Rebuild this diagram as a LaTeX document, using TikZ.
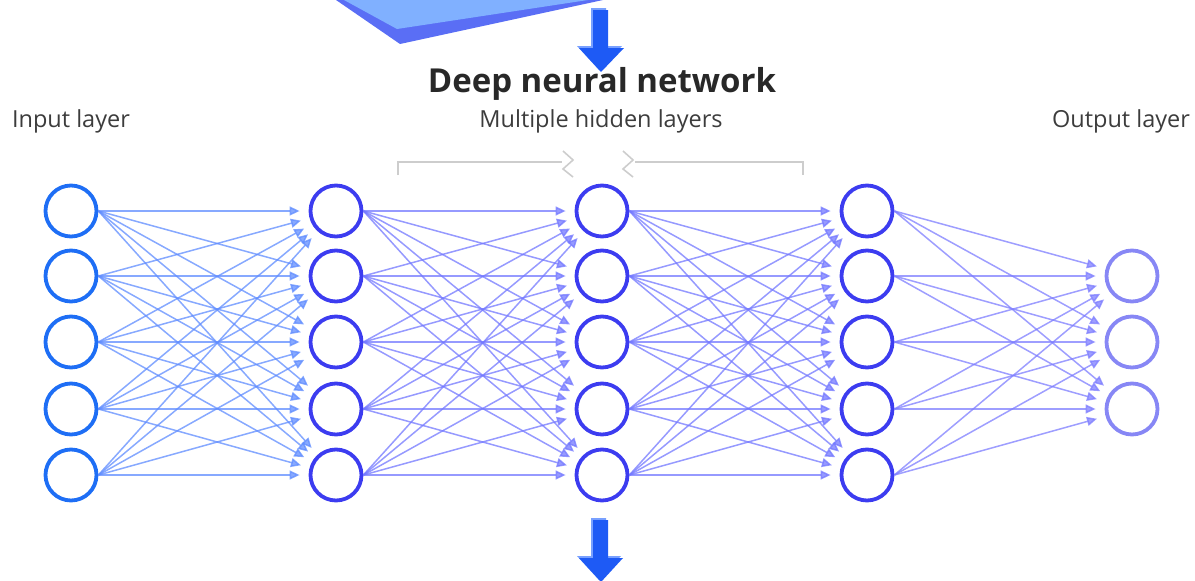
\documentclass[tikz,border=0pt]{standalone}
\usepackage{fontspec}
\setmainfont{Open Sans}
\usetikzlibrary{arrows.meta}
\definecolor{inC}{RGB}{30,110,245}
\definecolor{hidC}{RGB}{60,60,240}
\definecolor{outC}{RGB}{135,135,245}
\definecolor{eA}{RGB}{95,140,255}
\definecolor{eB}{RGB}{115,120,255}
\definecolor{eC}{RGB}{125,125,255}
\definecolor{slabL}{RGB}{128,176,255}
\definecolor{slabD}{RGB}{90,110,245}
\definecolor{arrB}{RGB}{30,90,245}
\definecolor{arrS}{RGB}{120,160,255}
\definecolor{brkC}{RGB}{205,205,205}
\definecolor{txtC}{RGB}{60,60,60}
\definecolor{titC}{RGB}{40,40,40}
\tikzset{
  neuron/.style={circle, minimum size=51pt, inner sep=0pt, line width=3.8pt, fill=white},
  inn/.style={neuron, draw=inC},
  hid/.style={neuron, draw=hidC},
  outn/.style={neuron, draw=outC},
  edgebase/.style={line width=1.5pt, opacity=0.75, shorten >=9pt, -{Triangle[length=10pt,width=9pt]}},
  eAs/.style={edgebase, draw=eA},
  eBs/.style={edgebase, draw=eB},
  eCs/.style={edgebase, draw=eC},
  brk/.style={draw=brkC, line width=1.6pt},
  lbl/.style={font=\fontsize{23.5}{28}\selectfont, text=txtC, inner sep=0pt},
  ttl/.style={font=\fontsize{33}{38}\selectfont\bfseries, text=titC, inner sep=0pt}
}
\begin{document}
\begin{tikzpicture}[x=1pt,y=-1pt]
\useasboundingbox (0,0) rectangle (1195,581);
\clip (0,0) rectangle (1195,581);
% slab
\fill[slabD] (336,0) -- (400,44) -- (603,0) -- cycle;
\fill[slabL] (344,0) -- (397,29) -- (588,0) -- cycle;
% arrows
\fill[arrS] (591,8) -- (606,8) -- (606,46) -- (622,46) -- (599,70) -- (577,46) -- (591,46) -- cycle;
\fill[arrB] (593,10) -- (608,10) -- (608,48) -- (624,48) -- (601,72) -- (579,48) -- (593,48) -- cycle;
\fill[arrS] (591,518) -- (606,518) -- (606,556) -- (621,556) -- (599,580) -- (577,556) -- (591,556) -- cycle;
\fill[arrB] (593,520) -- (608,520) -- (608,558) -- (623,558) -- (601,582) -- (579,558) -- (593,558) -- cycle;
% texts
\node[ttl] (title) at (602,84) {Deep neural network};
\node[lbl] (lin) at (71,121) {Input layer};
\node[lbl] (lhid) at (601,121) {Multiple hidden layers};
\node[lbl] (lout) at (1121,121) {Output layer};
% brackets
\draw[brk] (398,175) -- (398,162) -- (562,162);
\draw[brk] (563,151) -- (573,160) -- (563,169) -- (573,177);
\draw[brk] (623,151) -- (633,160) -- (623,169) -- (633,177);
\draw[brk] (635,162) -- (803,162) -- (803,175);
% nodes
\foreach \i/\y in {1/211,2/276,3/342,4/409,5/475}{
  \node[inn] (a\i) at (71,\y) {};
  \node[hid] (b\i) at (336,\y) {};
  \node[hid] (c\i) at (602,\y) {};
  \node[hid] (d\i) at (867,\y) {};
}
\foreach \i/\y in {1/276,2/342,3/409}{
  \node[outn] (o\i) at (1132,\y) {};
}
% edges
\foreach \i in {1,...,5}{
  \foreach \j in {1,...,5}{
    \draw[eAs] (a\i.east) -- (b\j);
    \draw[eBs] (b\i.east) -- (c\j);
    \draw[eBs] (c\i.east) -- (d\j);
  }
  \foreach \j in {1,2,3}{
    \draw[eCs] (d\i.east) -- (o\j);
  }
}
\end{tikzpicture}
\end{document}
